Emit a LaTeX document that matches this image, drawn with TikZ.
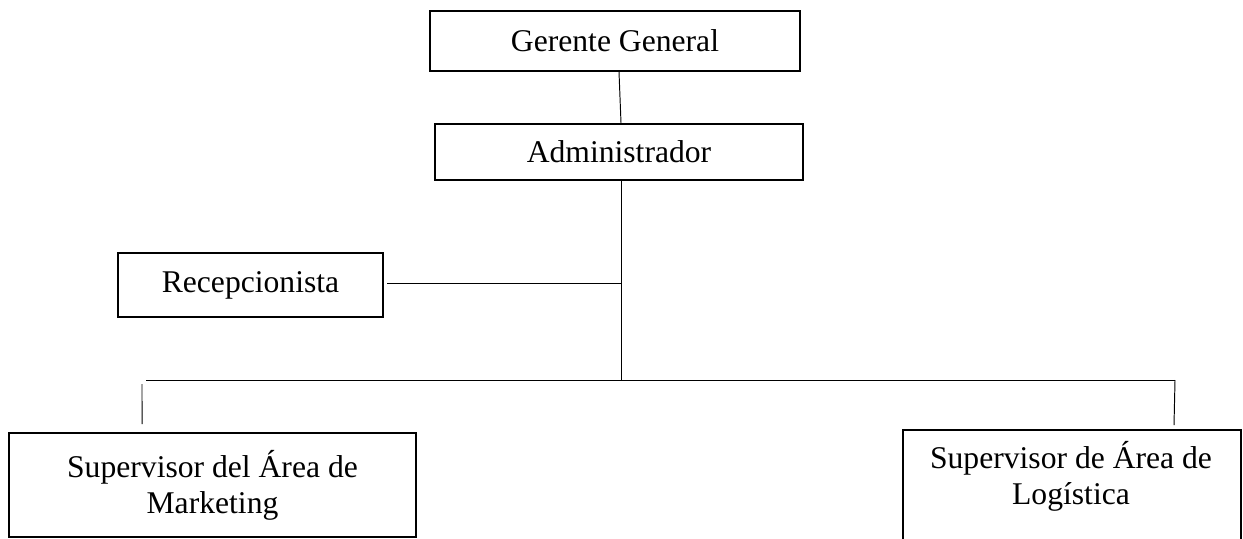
\documentclass[tikz,border=0pt]{standalone}
\usepackage{fontspec}
\setmainfont{Liberation Serif}
\usetikzlibrary{calc}

\def\pxu{0.02cm}
\tikzset{
  orgbox/.style={draw, line width=1.1pt, inner sep=0pt, align=center,
    font=\fontsize{18}{20.5}\selectfont},
  orgtext/.style={inner sep=0pt, align=center, font=\fontsize{18}{20.5}\selectfont},
  link/.style={line width=0.55pt}
}

\begin{document}
\begin{tikzpicture}[x=0.02cm,y=-0.02cm]
        \useasboundingbox (0,0) rectangle (1243,538);
        \clip (0,0) rectangle (1243,538);

        % boxes
        \node[orgbox, minimum width=370*\pxu, minimum height=60*\pxu] (gerente) at (615,41) {Gerente General};
        \node[orgbox, minimum width=368*\pxu, minimum height=56*\pxu] (admin) at (619,152) {Administrador};
        \node[orgbox, minimum width=265*\pxu, minimum height=64*\pxu] (recep) at (250.5,285) {Recepcionista};
        \node[orgbox, minimum width=407*\pxu, minimum height=104*\pxu] (marketing) at (212.5,485) {Supervisor del Área de\\Marketing};
        \node[orgbox, minimum width=338*\pxu, minimum height=140*\pxu, anchor=north west] (logistica) at (902,429) {};
        \node[orgtext] (logtxt) at (1071,476.5) {Supervisor de Área de\\Logística};

        % connectors
        \coordinate (trunk) at (621,380);
        \coordinate (busleft) at (146,380);
        \coordinate (busright) at (1175,380);
        \coordinate (dropleft) at (142,384);
        \coordinate (recepend) at (387,283);

        \draw[link] ($(gerente.south)+(4,0)$) -- ($(admin.north)+(2,0)$);
        \draw[link] ($(admin.south)+(2,0)$) -- (trunk);
        \draw[link] (recepend) -- (recepend -| trunk);
        \draw[link] (busleft) -- (busright);
        \draw[link] (dropleft) -- ($(marketing.north west)+(134,-8)$);
        \draw[link] (busright) -- ($(logistica.north west)+(272,-4)$);
\end{tikzpicture}
\end{document}
